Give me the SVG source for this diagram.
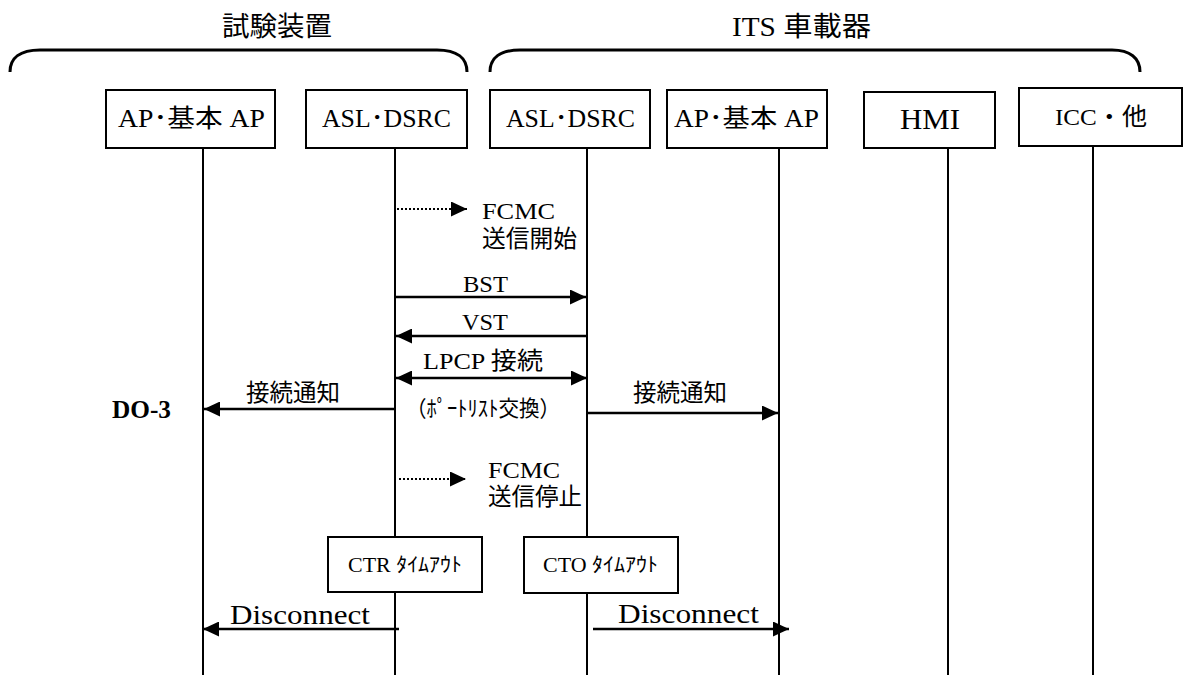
<svg xmlns="http://www.w3.org/2000/svg" width="1184" height="675" viewBox="0 0 1184 675">
<style>
  text { font-family: "Liberation Serif", "Noto Sans CJK JP", serif; fill: #000; }
  .box { fill: #fff; stroke: #000; stroke-width: 2; }
  .life { stroke: #000; stroke-width: 2; fill: none; }
  .msg { stroke: #000; stroke-width: 2.5; fill: none; }
  .dot { stroke: #000; stroke-width: 2; stroke-dasharray: 2 2; fill: none; }
  .brace { stroke: #000; stroke-width: 3; fill: none; }
  .lbl { font-size: 24px; }
  .nl { font-size: 25px; }
</style>
<defs>
  <marker id="ah" markerUnits="userSpaceOnUse" markerWidth="16" markerHeight="15" refX="16" refY="7.5" orient="auto-start-reverse">
    <path d="M0,0 L16,7.5 L0,15 Z" fill="#000"/>
  </marker>
</defs>
<rect width="1184" height="675" fill="#fff"/>

<g id="group-test">
  <path class="brace" d="M10,72 C10,58 20,50 40,50 L437,50 C457,50 467,58 467,72"/>
  <text x="222" y="36" font-size="27" textLength="110" lengthAdjust="spacingAndGlyphs">試験装置</text>
</g>
<g id="group-its">
  <path class="brace" d="M490,72 C490,58 500,50 520,50 L1112,50 C1130,50 1140,58 1140,72"/>
  <text x="732" y="36" font-size="27" textLength="139" lengthAdjust="spacingAndGlyphs">ITS 車載器</text>
</g>

<g id="lifelines">
  <line class="life" x1="203" y1="148" x2="203" y2="675"/>
  <line class="life" x1="395" y1="148" x2="395" y2="675"/>
  <line class="life" x1="587" y1="148" x2="587" y2="675"/>
  <line class="life" x1="779" y1="148" x2="779" y2="675"/>
  <line class="life" x1="948" y1="148" x2="948" y2="675"/>
  <line class="life" x1="1093" y1="146" x2="1093" y2="675"/>
</g>

<g id="node-ap1">
  <rect class="box" x="106" y="90" width="169" height="58"/>
  <text class="nl" x="118" y="127" textLength="147" lengthAdjust="spacingAndGlyphs">AP･基本 AP</text>
</g>
<g id="node-asl1">
  <rect class="box" x="306" y="90" width="161" height="58"/>
  <text class="nl" x="322" y="127" textLength="129" lengthAdjust="spacingAndGlyphs">ASL･DSRC</text>
</g>
<g id="node-asl2">
  <rect class="box" x="490" y="90" width="160" height="58"/>
  <text class="nl" x="506" y="127" textLength="129" lengthAdjust="spacingAndGlyphs">ASL･DSRC</text>
</g>
<g id="node-ap2">
  <rect class="box" x="667" y="90" width="160" height="58"/>
  <text class="nl" x="674" y="127" textLength="145" lengthAdjust="spacingAndGlyphs">AP･基本 AP</text>
</g>
<g id="node-hmi">
  <rect class="box" x="864" y="92" width="131" height="56"/>
  <text x="900" y="129" font-size="29" textLength="60" lengthAdjust="spacingAndGlyphs">HMI</text>
</g>
<g id="node-icc">
  <rect class="box" x="1019" y="88" width="163" height="58"/>
  <text class="lbl" x="1055" y="125" textLength="92" lengthAdjust="spacingAndGlyphs">ICC・他</text>
</g>

<g id="connectors">
  <line class="dot" x1="397" y1="209" x2="467" y2="209" marker-end="url(#ah)"/>
  <line class="msg" x1="396" y1="297" x2="586" y2="297" marker-end="url(#ah)"/>
  <line class="msg" x1="587" y1="336" x2="396" y2="336" marker-end="url(#ah)"/>
  <line class="msg" x1="396" y1="378" x2="587" y2="378" marker-start="url(#ah)" marker-end="url(#ah)"/>
  <line class="msg" x1="395" y1="409" x2="204" y2="409" marker-end="url(#ah)"/>
  <line class="msg" x1="587" y1="413" x2="778" y2="413" marker-end="url(#ah)"/>
  <line class="dot" x1="399" y1="479" x2="466" y2="479" marker-end="url(#ah)"/>
  <line class="msg" x1="399" y1="629" x2="203" y2="629" marker-end="url(#ah)"/>
  <line class="msg" x1="593" y1="629" x2="789" y2="629" marker-end="url(#ah)"/>
</g>

<g id="labels">
  <text class="lbl" x="482" y="219" textLength="73" lengthAdjust="spacingAndGlyphs">FCMC</text>
  <text class="lbl" x="482" y="247" textLength="95" lengthAdjust="spacingAndGlyphs">送信開始</text>
  <text class="lbl" x="463" y="292" textLength="45" lengthAdjust="spacingAndGlyphs">BST</text>
  <text class="lbl" x="462" y="330" textLength="46" lengthAdjust="spacingAndGlyphs">VST</text>
  <text class="lbl" x="423" y="369" textLength="120" lengthAdjust="spacingAndGlyphs">LPCP 接続</text>
  <text class="lbl" x="246" y="401" textLength="94" lengthAdjust="spacingAndGlyphs">接続通知</text>
  <text x="112" y="418" font-size="26" font-weight="bold" textLength="59" lengthAdjust="spacingAndGlyphs">DO-3</text>
  <text x="406" y="416" font-size="22" textLength="154" lengthAdjust="spacingAndGlyphs">（ﾎﾟｰﾄﾘｽﾄ交換）</text>
  <text class="lbl" x="633" y="401" textLength="94" lengthAdjust="spacingAndGlyphs">接続通知</text>
  <text class="lbl" x="488" y="478" textLength="72" lengthAdjust="spacingAndGlyphs">FCMC</text>
  <text class="lbl" x="488" y="505" textLength="94" lengthAdjust="spacingAndGlyphs">送信停止</text>
  <text x="230" y="624" font-size="28" textLength="140" lengthAdjust="spacingAndGlyphs">Disconnect</text>
  <text x="618" y="623" font-size="28" textLength="141" lengthAdjust="spacingAndGlyphs">Disconnect</text>
</g>

<g id="node-ctr">
  <rect class="box" x="328" y="537" width="154" height="55"/>
  <text x="348" y="572" font-size="20" textLength="114" lengthAdjust="spacingAndGlyphs">CTR ﾀｲﾑｱｳﾄ</text>
</g>
<g id="node-cto">
  <rect class="box" x="524" y="537" width="154" height="56"/>
  <text x="543" y="572" font-size="20" textLength="115" lengthAdjust="spacingAndGlyphs">CTO ﾀｲﾑｱｳﾄ</text>
</g>
</svg>
